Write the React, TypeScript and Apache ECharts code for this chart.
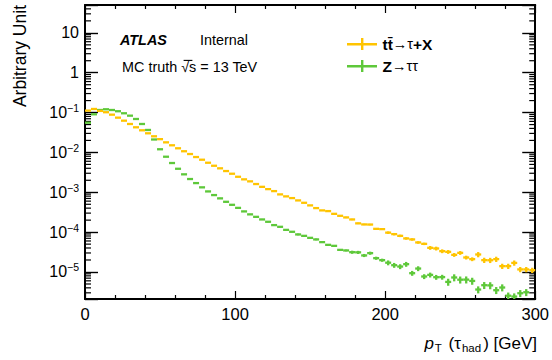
import React, { useEffect, useRef } from 'react';
import * as echarts from 'echarts';

// ---- data (4 GeV bins from 0 to 300 GeV) ----
const binWidth = 4;
const xMin = 0;
const xMax = 300;
const yMin = 2.1e-6;
const yMax = 50;

const seriesNames = ['tt̄→τ+X', 'Z→ττ'];
const seriesColors = ['#FFC400', '#5EC83A'];

const ttbarValues = [
  0.112, 0.123, 0.110, 0.102, 0.0886, 0.0745, 0.0626, 0.0517, 0.0427, 0.0359,
  0.0302, 0.0254, 0.0215, 0.0179, 0.0151, 0.0127, 0.0107, 0.00912, 0.00766, 0.00656,
  0.00551, 0.00463, 0.00399, 0.00341, 0.00292, 0.00245, 0.00211, 0.00188, 0.00161, 0.00137,
  0.00120, 0.00107, 0.000885, 0.000789, 0.000715, 0.000625, 0.000545, 0.000469, 0.000401, 0.000351,
  0.000337, 0.000288, 0.000257, 0.000234, 0.000208, 0.000166, 0.000156, 0.000155, 0.000121, 0.000119,
  0.0000971, 0.0000891, 0.0000807, 0.0000695, 0.0000656, 0.0000551, 0.0000508, 0.0000404, 0.0000389, 0.0000333,
  0.0000320, 0.0000269, 0.0000302, 0.0000231, 0.0000210, 0.0000275, 0.0000198, 0.0000197, 0.0000210, 0.0000140,
  0.0000140, 0.0000169, 0.0000116, 0.0000116, 0.0000111,
];

const ztautauValues: (number | null)[] = [
  0.0557, 0.0906, 0.116, 0.121, 0.116, 0.108, 0.0960, 0.0836, 0.0690, 0.0517,
  0.0366, 0.0211, 0.0120, 0.00780, 0.00542, 0.00389, 0.00282, 0.00215, 0.00170, 0.00133,
  0.00105, 0.000851, 0.000703, 0.000577, 0.000485, 0.000406, 0.000331, 0.000279, 0.000242, 0.000208,
  0.000182, 0.000150, 0.000136, 0.000114, 0.000102, 0.0000875, 0.0000807, 0.0000719, 0.0000656, 0.0000561,
  0.0000480, 0.0000453, 0.0000359, 0.0000347, 0.0000314, 0.0000311, 0.0000260, 0.0000297, 0.0000222, 0.0000198,
  0.0000171, 0.0000148, 0.0000137, 0.0000157, 0.00000933, 0.0000122, 0.00000771, 0.00000846, 0.00000740, 0.00000745,
  0.00000564, 0.00000728, 0.00000641, 0.00000644, 0.00000597, 0.00000363, 0.00000466, 0.00000461, 0.00000349, 0.00000408,
  0.00000254, 0.00000242, 0.00000293, 0.00000310, null,
];

// relative statistical uncertainties per bin
const ttbarErr = [
  0.01, 0.01, 0.01, 0.01, 0.01, 0.01, 0.01, 0.01, 0.01, 0.01,
  0.01, 0.01, 0.01, 0.01, 0.01, 0.01, 0.01, 0.01, 0.01, 0.01,
  0.01, 0.01, 0.01, 0.01, 0.01, 0.01, 0.01, 0.01, 0.01, 0.01,
  0.02, 0.02, 0.02, 0.02, 0.02, 0.02, 0.02, 0.02, 0.02, 0.02,
  0.04, 0.04, 0.04, 0.04, 0.04, 0.04, 0.04, 0.04, 0.04, 0.04,
  0.07, 0.07, 0.07, 0.07, 0.07, 0.07, 0.07, 0.11, 0.11, 0.11,
  0.11, 0.11, 0.11, 0.11, 0.11, 0.15, 0.15, 0.15, 0.15, 0.15,
  0.15, 0.15, 0.15, 0.15, 0.15,
];

const ztautauErr = [
  0.01, 0.01, 0.01, 0.01, 0.01, 0.01, 0.01, 0.01, 0.01, 0.01,
  0.01, 0.01, 0.01, 0.01, 0.01, 0.01, 0.01, 0.01, 0.01, 0.01,
  0.03, 0.03, 0.03, 0.03, 0.03, 0.03, 0.03, 0.03, 0.03, 0.03,
  0.03, 0.03, 0.03, 0.03, 0.03, 0.05, 0.05, 0.05, 0.05, 0.05,
  0.05, 0.05, 0.05, 0.05, 0.09, 0.09, 0.09, 0.09, 0.09, 0.09,
  0.14, 0.14, 0.14, 0.14, 0.14, 0.14, 0.14, 0.14, 0.14, 0.14,
  0.20, 0.20, 0.20, 0.20, 0.20, 0.20, 0.20, 0.20, 0.20, 0.20,
  0.20, 0.20, 0.20, 0.20, 0.20,
];

const FONT = '"Liberation Sans", Arial, Helvetica, sans-serif';

function histData(values: (number | null)[], errs: number[]) {
  const out: number[][] = [];
  values.forEach((v, i) => {
    if (v != null && v > 0) out.push([xMin + binWidth * i + binWidth / 2, v, errs[i]]);
  });
  return out;
}

function yMinorTickValues() {
  const out: number[][] = [];
  for (let d = -6; d <= 1; d++) {
    for (let m = 2; m <= 9; m++) {
      const v = m * Math.pow(10, d);
      if (v > yMin && v < yMax) out.push([xMin, v]);
    }
  }
  return out;
}

export default function App() {
  const ref = useRef<HTMLDivElement>(null);

  useEffect(() => {
    if (!ref.current) return;
    const chart = echarts.init(ref.current, null, { renderer: 'svg' });

    const renderHist = (params: any, api: any) => {
      const x = api.value(0);
      const v = api.value(1);
      const e = api.value(2);
      const l = api.coord([x - binWidth / 2, v]);
      const r = api.coord([x + binWidth / 2, v]);
      const t = api.coord([x, v * (1 + e)]);
      const b = api.coord([x, v * (1 - e)]);
      const style = { stroke: api.visual('color'), lineWidth: 2.3 };
      return {
        type: 'group',
        children: [
          { type: 'line', shape: { x1: l[0], y1: l[1], x2: r[0], y2: r[1] }, style },
          { type: 'line', shape: { x1: t[0], y1: t[1], x2: b[0], y2: b[1] }, style },
        ],
      };
    };

    const renderMinorTicks = (params: any, api: any) => {
      const v = api.value(1);
      const pl = api.coord([xMin, v]);
      const pr = api.coord([xMax, v]);
      const style = { stroke: '#000', lineWidth: 1.2 };
      return {
        type: 'group',
        children: [
          { type: 'line', shape: { x1: pl[0], y1: pl[1], x2: pl[0] + 6, y2: pl[1] }, style },
          { type: 'line', shape: { x1: pr[0], y1: pr[1], x2: pr[0] - 6, y2: pr[1] }, style },
        ],
      };
    };

    const yLabel = (v: number) => {
      const lg = Math.log10(v);
      const p = Math.round(lg);
      if (Math.abs(lg - p) > 1e-6) return '';
      if (p === 1) return '10';
      if (p === 0) return '1';
      return '10{sup|' + (p < 0 ? '−' : '') + Math.abs(p) + '}';
    };

    const xAxisCommon = {
      type: 'value',
      min: xMin,
      max: xMax,
      interval: 100,
      axisLine: { show: true, onZero: false, lineStyle: { color: '#000', width: 2 } },
      axisTick: { show: true, inside: true, length: 8, lineStyle: { color: '#000', width: 1.2 } },
      minorTick: { show: true, splitNumber: 5, length: 4, lineStyle: { color: '#000', width: 1.2 } },
      splitLine: { show: false },
      minorSplitLine: { show: false },
    };

    const yAxisCommon = {
      type: 'log',
      logBase: 10,
      min: yMin,
      max: yMax,
      splitNumber: 8,
      axisLine: { show: true, onZero: false, lineStyle: { color: '#000', width: 2 } },
      axisTick: { show: true, inside: true, length: 13, lineStyle: { color: '#000', width: 1.4 } },
      splitLine: { show: false },
    };

    chart.setOption({
      animation: false,
      backgroundColor: '#fff',
      grid: { left: 85, right: 15, top: 5, bottom: 61, containLabel: false },
      xAxis: [
        {
          ...xAxisCommon,
          position: 'bottom',
          axisLabel: { show: true, color: '#000', fontSize: 16.5, fontFamily: FONT, margin: 6 },
        },
        {
          ...xAxisCommon,
          position: 'top',
          axisLabel: { show: false },
        },
      ],
      yAxis: [
        {
          ...yAxisCommon,
          position: 'left',
          axisLabel: {
            show: true,
            color: '#000',
            fontSize: 16,
            fontFamily: FONT,
            margin: 6,
            formatter: yLabel,
            rich: {
              sup: { fontSize: 10.5, fontFamily: FONT, color: '#000', padding: [0, 0, 9, 0] },
            },
          },
        },
        {
          ...yAxisCommon,
          position: 'right',
          axisLabel: { show: false },
        },
      ],
      legend: {
        show: true,
        orient: 'vertical',
        left: 342,
        top: 31,
        itemWidth: 31,
        itemHeight: 12,
        itemGap: 6,
        selectedMode: false,
        data: seriesNames.map((n) => ({
          name: n,
          icon: 'path://M0,5 L30,5 L30,7.4 L0,7.4 Z M14,0 L16.4,0 L16.4,12 L14,12 Z',
        })),
        itemStyle: { borderWidth: 0 },
        formatter: (name: string) =>
          name === seriesNames[0] ? '{b|tt̄}{n|→τ}{b|+X}' : '{b|Z}{n|→ττ}',
        textStyle: {
          color: '#000',
          fontFamily: FONT,
          fontSize: 15,
          lineHeight: 16,
          rich: {
            b: { fontWeight: 'bold', fontSize: 15.5, fontFamily: FONT, color: '#000' },
            n: { fontSize: 14.5, fontFamily: FONT, color: '#000' },
          },
        },
      },
      series: [
        {
          name: seriesNames[0],
          type: 'custom',
          xAxisIndex: 0,
          yAxisIndex: 0,
          clip: true,
          itemStyle: { color: seriesColors[0] },
          renderItem: renderHist,
          data: histData(ttbarValues, ttbarErr),
          z: 3,
        },
        {
          name: seriesNames[1],
          type: 'custom',
          xAxisIndex: 0,
          yAxisIndex: 0,
          clip: true,
          itemStyle: { color: seriesColors[1] },
          renderItem: renderHist,
          data: histData(ztautauValues, ztautauErr),
          z: 2,
        },
        {
          name: 'yMinorTicks',
          type: 'custom',
          xAxisIndex: 0,
          yAxisIndex: 0,
          silent: true,
          renderItem: renderMinorTicks,
          data: yMinorTickValues(),
          z: 1,
        },
      ],
      graphic: [
        {
          type: 'text',
          x: 120,
          y: 39.5,
          style: { text: 'ATLAS', font: `italic bold 14.4px ${FONT}`, fill: '#000', textVerticalAlign: 'middle' },
        },
        {
          type: 'text',
          x: 200,
          y: 39.5,
          style: { text: 'Internal', font: `14.4px ${FONT}`, fill: '#000', textVerticalAlign: 'middle' },
        },
        {
          type: 'text',
          x: 122,
          y: 67,
          style: { text: 'MC truth √s = 13 TeV', font: `14.4px ${FONT}`, fill: '#000', textVerticalAlign: 'middle' },
        },
        {
          type: 'line',
          shape: { x1: 183.6, y1: 60.4, x2: 192.4, y2: 60.4 },
          style: { stroke: '#000', lineWidth: 1.1 },
        },
        {
          type: 'text',
          x: 20,
          y: 5,
          rotation: Math.PI / 2,
          style: {
            text: 'Arbitrary Unit',
            font: `17.5px ${FONT}`,
            fill: '#000',
            textAlign: 'right',
            textVerticalAlign: 'middle',
          },
        },
        {
          type: 'text',
          x: 537,
          y: 343,
          style: {
            text: '{i|p}{s|T} (τ{s|had}) [GeV]',
            font: `17px ${FONT}`,
            fill: '#000',
            textAlign: 'right',
            textVerticalAlign: 'middle',
            rich: {
              i: { fontStyle: 'italic', fontSize: 17, fontFamily: FONT, fill: '#000' },
              s: { fontSize: 11.5, fontFamily: FONT, fill: '#000', padding: [9, 2, 0, 1] },
            },
          },
        },
      ],
    });

    return () => chart.dispose();
  }, []);

  return (
    <div
      ref={ref}
      style={{ position: 'fixed', left: 0, top: 0, width: 552, height: 360, background: '#fff' }}
    />
  );
}
